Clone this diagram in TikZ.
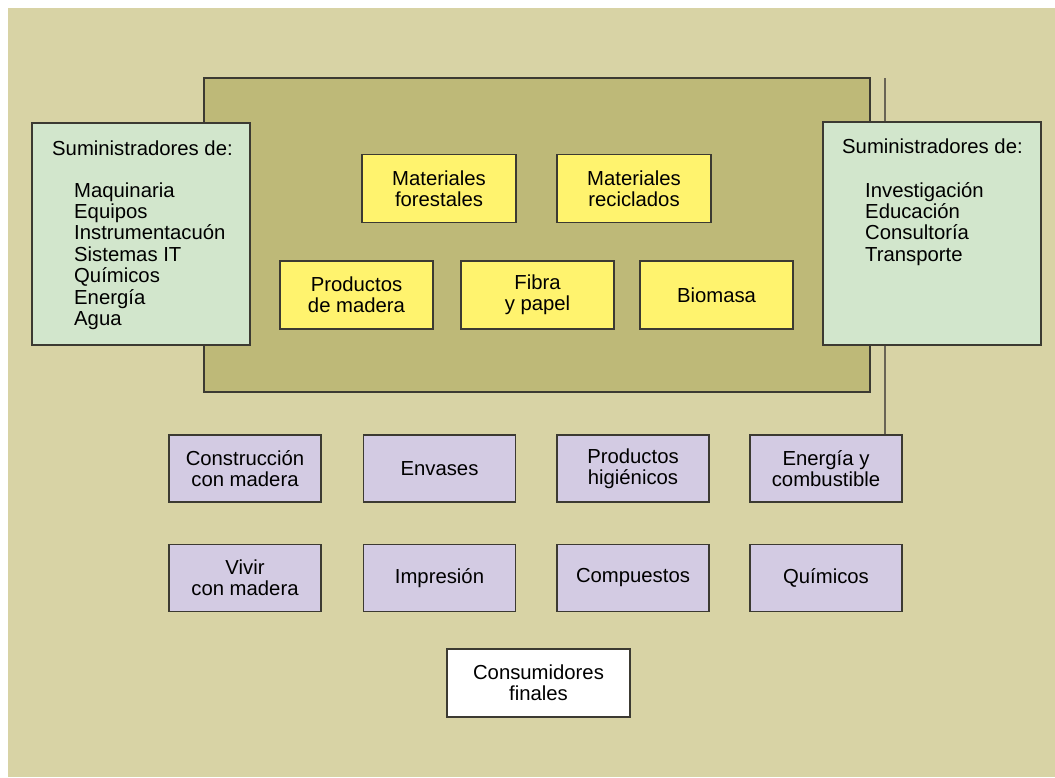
\documentclass[tikz,border=0pt]{standalone}
\usepackage{fontspec}
\setmainfont{Liberation Sans}
\definecolor{bgsand}{RGB}{216,211,165}
\definecolor{olive}{RGB}{190,185,120}
\definecolor{mint}{RGB}{210,230,204}
\definecolor{rawyellow}{RGB}{255,243,110}
\definecolor{lilac}{RGB}{211,203,227}
\definecolor{boxline}{RGB}{60,58,50}
\definecolor{linkgray}{RGB}{105,100,85}
\tikzstyle{sector}=[fill=olive, draw=boxline, line width=1.5pt]
\tikzstyle{supplier}=[fill=mint, draw=boxline, line width=1.5pt]
\tikzstyle{raw}=[draw=boxline, line width=1.5pt, fill=rawyellow, minimum width=153pt, minimum height=68pt, inner sep=0pt, align=center]
\tikzstyle{market}=[raw, fill=lilac, minimum width=152pt, minimum height=67pt]
\tikzstyle{final}=[raw, fill=white, minimum width=183pt]
\tikzstyle{list}=[inner sep=0pt, align=left]

\begin{document}
\begin{tikzpicture}[x=1pt,y=-1pt,font=\fontsize{20.3}{21.4}\selectfont]
    \useasboundingbox (0,0) rectangle (1055,777);

    % Background and forest sector
    \fill[bgsand] (8,8) rectangle (1055,777);
    \draw[sector] (204,78) rectangle (870,392);

    % Markets
    \draw (245,468.5) node[market] (constr) {Construcción\\con madera};
    \draw (439.5,468.5) node[market] (envas) {Envases};
    \draw (633,468.5) node[market] (higien) {Productos\\higiénicos};
    \draw (826,468.5) node[market] (energ) {Energía y\\combustible};
    \draw (245,578) node[market] (vivir) {Vivir\\con madera};
    \draw (439.5,578) node[market] (impres) {Impresión};
    \draw (633,578) node[market] (compue) {Compuestos};
    \draw (826,578) node[market] (quimic) {Químicos};
    \draw (538.5,683) node[final] (consum) {Consumidores\\finales};

    % Link
    \coordinate (link) at (885,78);
    \draw[linkgray, line width=1.5pt] (link) -- (link |- energ.north);

    % Suppliers (lists sit on their last baseline)
    \draw[supplier] (32,123) rectangle (250,345);
    \draw (52,155) node[list, anchor=base west] (suplh) {Suministradores de:};
    \draw (74,325.4) node[list, anchor=base west] (supll)
    {Maquinaria\\Equipos\\Instrumentacuón\\Sistemas IT\\Químicos\\Energía\\Agua};
    \draw[supplier] (823,122) rectangle (1041,345);
    \draw (842,153) node[list, anchor=base west] (suprh) {Suministradores de:};
    \draw (865,261.2) node[list, anchor=base west] (suprl)
    {Investigación\\Educación\\Consultoría\\Transporte};

    % Raw materials and products
    \draw (439,188.5) node[raw, minimum width=154pt] (forest) {Materiales\\forestales};
    \draw (634,188.5) node[raw, minimum width=154pt] (recic) {Materiales\\reciclados};
    \draw (356.5,295) node[raw] (madera) {Productos\\de madera};
    \draw (537.5,295) node[raw] (fibra) {Fibra\\y papel};
    \draw (716.5,295) node[raw] (biomas) {Biomasa};

\end{tikzpicture}
\end{document}
